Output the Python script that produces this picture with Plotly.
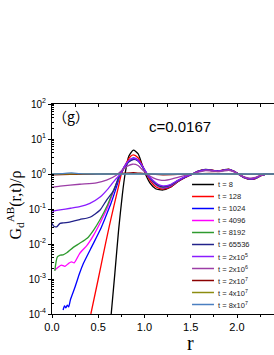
import plotly.graph_objects as go

# ---------------- data ----------------
labels = ["t = 8", "t = 128", "t = 1024", "t = 4096", "t = 8192", "t = 65536",
          "t = 2x10<sup>5</sup>", "t = 2x10<sup>6</sup>", "t = 2x10<sup>7</sup>",
          "t = 4x10<sup>7</sup>", "t = 8x10<sup>7</sup>"]
colors = ["#000000", "#ff0000", "#0000ff", "#ff00ff", "#2e9a2e", "#22228a",
          "#8a1cff", "#9c3ea6", "#8b0000", "#8c8c10", "#4a7fc0"]

tail_r = [1.28, 1.36, 1.44, 1.52, 1.58, 1.66, 1.72, 1.79, 1.85, 1.91, 1.97,
          2.02, 2.08, 2.14, 2.2, 2.26, 2.32, 2.4]

r_t8 = [0.64, 0.68, 0.72, 0.76, 0.79, 0.83, 0.88, 0.93, 0.97, 1.01, 1.06, 1.12, 1.2] + tail_r
g_t8 = [1e-4, 1.5e-3, 0.025, 0.25, 1.0, 3.2, 4.8, 3.8, 2.0, 1.0, 0.55, 0.38, 0.35,
        0.42, 0.6, 0.8, 1.0, 1.2, 1.35, 1.3, 1.22, 1.3, 1.38, 1.2, 0.98, 0.78, 0.7, 0.74, 0.9, 1.0, 1.0]

r_t128 = [0.42, 0.5, 0.55, 0.61, 0.67, 0.72, 0.75, 0.8, 0.85, 0.88, 0.93, 0.97, 1.02, 1.07, 1.13, 1.2] + tail_r
g_t128 = [1e-4, 1e-3, 4.4e-3, 0.025, 0.125, 0.45, 1.0, 2.0, 3.2, 3.5, 2.9, 1.9, 1.0, 0.6, 0.42, 0.37,
          0.43, 0.61, 0.8, 1.0, 1.19, 1.33, 1.29, 1.21, 1.29, 1.36, 1.19, 0.98, 0.79, 0.71, 0.75, 0.9, 1.0, 1.0]

r_t1024 = [0.12, 0.135, 0.15, 0.165, 0.18, 0.2, 0.25, 0.3, 0.34, 0.43, 0.52, 0.58, 0.64, 0.7, 0.74,
           0.78, 0.83, 0.88, 0.93, 0.98, 1.03, 1.09, 1.15, 1.2] + tail_r
g_t1024 = [1.3e-4, 1.7e-4, 1.5e-4, 1.8e-4, 1.6e-4, 2.6e-4, 6e-4, 1.5e-3, 2.8e-3, 8.4e-3, 0.025, 0.06,
           0.15, 0.45, 1.0, 1.6, 2.4, 2.9, 2.5, 1.6, 0.95, 0.6, 0.44, 0.4,
           0.45, 0.62, 0.81, 1.0, 1.18, 1.31, 1.27, 1.2, 1.27, 1.34, 1.18, 0.98, 0.8, 0.72, 0.76, 0.91, 1.0, 1.0]

r_t4096 = [0.03, 0.06, 0.1, 0.14, 0.18, 0.21, 0.24, 0.3, 0.38, 0.45, 0.52, 0.6, 0.67, 0.74,
           0.78, 0.83, 0.88, 0.93, 0.98, 1.03, 1.09, 1.15, 1.2] + tail_r
g_t4096 = [1.8e-3, 2.1e-3, 2.5e-3, 2.3e-3, 2.8e-3, 3.1e-3, 2.9e-3, 5.4e-3, 9.3e-3, 0.018, 0.04, 0.11,
           0.35, 1.0, 1.6, 2.4, 2.8, 2.45, 1.6, 0.96, 0.61, 0.45, 0.41,
           0.46, 0.63, 0.82, 1.0, 1.18, 1.31, 1.27, 1.2, 1.27, 1.34, 1.18, 0.98, 0.8, 0.72, 0.76, 0.91, 1.0, 1.0]

r_t8192 = [0.03, 0.058, 0.09, 0.12, 0.16, 0.23, 0.3, 0.38, 0.45, 0.52, 0.6, 0.67, 0.74,
           0.78, 0.83, 0.88, 0.93, 0.98, 1.03, 1.09, 1.15, 1.2] + tail_r
g_t8192 = [1.7e-3, 4.3e-3, 4.8e-3, 4.9e-3, 5.6e-3, 8e-3, 0.0105, 0.0145, 0.025, 0.05, 0.13,
           0.37, 1.0, 1.55, 2.3, 2.7, 2.4, 1.6, 0.97, 0.62, 0.46, 0.42,
           0.47, 0.64, 0.82, 1.0, 1.17, 1.3, 1.26, 1.2, 1.26, 1.33, 1.17, 0.98, 0.8, 0.72, 0.77, 0.91, 1.0, 1.0]

r_t65536 = [0.0, 0.02, 0.05, 0.087, 0.12, 0.2, 0.3, 0.41, 0.52, 0.59, 0.67, 0.72, 0.75,
            0.79, 0.83, 0.88, 0.93, 0.98, 1.03, 1.09, 1.15, 1.2] + tail_r
g_t65536 = [0.039, 0.032, 0.031, 0.039, 0.04, 0.043, 0.05, 0.058, 0.094, 0.18, 0.35, 0.8, 1.1,
            1.6, 2.2, 2.6, 2.35, 1.6, 0.98, 0.63, 0.47, 0.43,
            0.48, 0.65, 0.83, 1.0, 1.17, 1.3, 1.26, 1.2, 1.26, 1.32, 1.17, 0.98, 0.8, 0.73, 0.77, 0.91, 1.0, 1.0]

r_2e5 = [0.0, 0.02, 0.087, 0.2, 0.3, 0.41, 0.52, 0.61, 0.68, 0.74,
         0.79, 0.83, 0.88, 0.93, 0.98, 1.03, 1.09, 1.15, 1.2] + tail_r
g_2e5 = [0.075, 0.088, 0.094, 0.105, 0.116, 0.145, 0.22, 0.39, 0.67, 1.0,
         1.7, 2.4, 2.8, 2.45, 1.65, 1.0, 0.66, 0.5, 0.46,
         0.5, 0.66, 0.84, 1.0, 1.17, 1.3, 1.27, 1.21, 1.27, 1.33, 1.17, 0.98, 0.8, 0.73, 0.77, 0.91, 1.0, 1.0]

r_2e6 = [0.0, 0.087, 0.3, 0.48, 0.59, 0.7, 0.76, 0.82, 0.87, 0.93, 0.98, 1.03, 1.1, 1.17, 1.22] + tail_r
g_2e6 = [0.42, 0.45, 0.51, 0.56, 0.67, 0.94, 1.3, 1.7, 1.9, 1.75, 1.3, 0.98, 0.76, 0.67, 0.66,
         0.7, 0.8, 0.91, 1.02, 1.13, 1.25, 1.22, 1.17, 1.22, 1.28, 1.15, 0.98, 0.83, 0.76, 0.8, 0.92, 1.0, 1.0]

r_2e7 = [0.0, 0.2, 0.4, 0.6, 0.75, 0.88, 1.0, 1.2, 1.4, 1.7, 2.0, 2.2, 2.4]
g_2e7 = [0.95, 0.97, 0.98, 1.0, 1.03, 1.1, 1.02, 0.95, 0.98, 1.04, 1.0, 0.97, 1.0]

r_4e7 = [0.0, 0.3, 0.6, 0.9, 1.2, 1.5, 1.8, 2.1, 2.4]
g_4e7 = [1.0, 1.01, 1.0, 1.02, 0.99, 1.0, 1.01, 0.99, 1.0]

r_8e7 = [0.0, 0.1, 0.21, 0.3, 0.5, 0.8, 1.1, 1.4, 1.7, 2.0, 2.4]
g_8e7 = [1.0, 1.02, 1.07, 1.03, 1.0, 1.0, 1.0, 1.0, 1.0, 1.0, 1.0]

series_r = [r_t8, r_t128, r_t1024, r_t4096, r_t8192, r_t65536, r_2e5, r_2e6, r_2e7, r_4e7, r_8e7]
series_g = [g_t8, g_t128, g_t1024, g_t4096, g_t8192, g_t65536, g_2e5, g_2e6, g_2e7, g_4e7, g_8e7]

x_tickvals = [0.0, 0.5, 1.0, 1.5, 2.0]
x_ticktext = ["0.0", "0.5", "1.0", "1.5", "2.0"]
y_tickvals = [1e-4, 1e-3, 1e-2, 1e-1, 1e0, 1e1, 1e2]
y_ticktext = ["10<sup>-4</sup>", "10<sup>-3</sup>", "10<sup>-2</sup>", "10<sup>-1</sup>",
              "10<sup>0</sup>", "10<sup>1</sup>", "10<sup>2</sup>"]

# ---------------- figure ----------------
fig = go.Figure()
for rr, gg, col, lab in zip(series_r, series_g, colors, labels):
    fig.add_trace(go.Scatter(x=rr, y=gg, mode="lines", name=lab,
                             line=dict(color=col, width=1.3, shape="spline", smoothing=0.6),
                             showlegend=False))

# invisible trace on the top axis so it is drawn
fig.add_trace(go.Scatter(x=[0], y=[1], xaxis="x2", mode="markers",
                         marker=dict(opacity=0), showlegend=False, hoverinfo="skip"))

# manual legend
leg_x0, leg_x1, leg_tx = 1.514, 1.751, 1.775
for i, (col, lab) in enumerate(zip(colors, labels)):
    yp = (314.5 - (185 + 12.0 * i)) / 210.0
    fig.add_shape(type="line", xref="x", yref="paper", x0=leg_x0, x1=leg_x1, y0=yp, y1=yp,
                  line=dict(color=col, width=1.5))
    fig.add_annotation(xref="x", yref="paper", x=leg_tx, y=yp, text=lab, showarrow=False,
                       xanchor="left", yanchor="middle",
                       font=dict(family="Liberation Sans", size=7.5, color="#222"))

fig.add_annotation(xref="x", yref="paper", x=0.21, y=0.945, text="（g）", showarrow=False,
                   xanchor="center", yanchor="middle",
                   font=dict(family="Noto Sans CJK SC", size=14, color="black"))
fig.add_annotation(xref="x", yref="paper", x=1.384, y=0.893, text="c=0.0167", showarrow=False,
                   xanchor="center", yanchor="middle",
                   font=dict(family="Liberation Sans", size=15, color="black"))
fig.add_annotation(xref="x", yref="paper", x=1.5, y=-0.074, text="r", showarrow=False,
                   xanchor="center", yanchor="top",
                   font=dict(family="Liberation Serif", size=20, color="black"))
fig.add_annotation(xref="paper", yref="paper", x=-0.168, y=0.52,
                   text="G<sub>d</sub><sup>AB</sup>(r,t)/ρ", textangle=-90, showarrow=False,
                   xanchor="center", yanchor="middle",
                   font=dict(family="Liberation Serif", size=16, color="black"))

fig.update_layout(
    width=274, height=355,
    margin=dict(l=52, r=0, t=104, b=41),
    paper_bgcolor="white", plot_bgcolor="white",
    showlegend=False,
    xaxis=dict(range=[0, 2.4], tickvals=x_tickvals, ticktext=x_ticktext,
               ticks="outside", ticklen=3, tickcolor="black",
               minor=dict(ticks="outside", ticklen=2, dtick=0.25, tickcolor="black", showgrid=False),
               showline=True, linecolor="black", linewidth=1, mirror=True,
               showgrid=False, zeroline=False,
               tickfont=dict(family="Liberation Sans", size=11, color="black")),
    xaxis2=dict(range=[0, 2.4], overlaying="x", side="top", anchor="y",
                tickmode="linear", tick0=0, dtick=0.25, ticks="inside", ticklen=3,
                tickcolor="black", showticklabels=False, showgrid=False,
                showline=False, zeroline=False),
    yaxis=dict(type="log", range=[-4, 2], tickvals=y_tickvals, ticktext=y_ticktext,
               ticks="outside", ticklen=3, tickcolor="black",
               minor=dict(ticks="inside", ticklen=2, dtick="D1", tickcolor="black", showgrid=False),
               showline=True, linecolor="black", linewidth=1,
               showgrid=False, zeroline=False,
               tickfont=dict(family="Liberation Sans", size=10, color="black")),
)

fig.write_html("out.html", config={"displayModeBar": False},
               post_script="document.body.style.margin='0';document.body.style.padding='0';")
